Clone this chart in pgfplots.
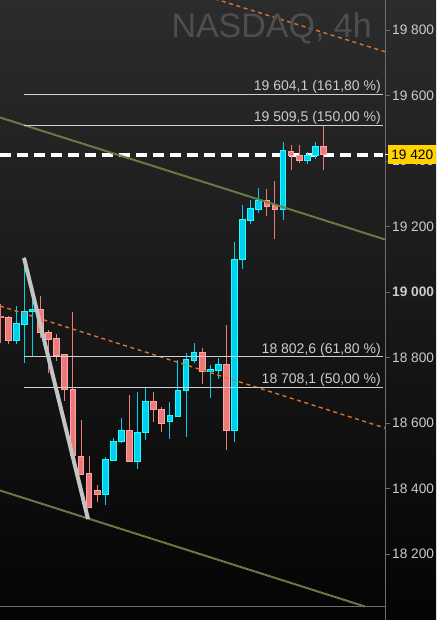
\documentclass[border=0pt]{standalone}
\usepackage{pgfplots}
\pgfplotsset{compat=1.18}
\usepackage{pgfplotstable}
\usepackage{fontspec}
\setmainfont{Liberation Sans}

\definecolor{redfill}{HTML}{EC7A7A}
\definecolor{redline}{HTML}{FFA3A3}
\definecolor{cyanfill}{HTML}{00D0F0}
\definecolor{cyanline}{HTML}{20FFFF}
\definecolor{bgtop}{HTML}{2C2C2C}
\definecolor{bgbot}{HTML}{040404}
\definecolor{labelgray}{HTML}{C8CCD2}
\definecolor{fibgray}{HTML}{D0D0D0}
\definecolor{chgreen}{HTML}{3E9A3E}
\definecolor{chred}{HTML}{B05A55}
\definecolor{dashorange}{HTML}{D8742F}
\definecolor{axisgray}{HTML}{6E6E6E}
\definecolor{pricegold}{HTML}{FFD200}
\definecolor{titlegray}{HTML}{4E4E4E}

% bearish candles: i open high low close
\pgfplotstableread{
i  O     H     L     C
0  18927 18964 18845 18921
1  18923 18928 18840 18852
5  18948 18989 18859 18877
6  18877 18884 18754 18855
7  18857 18872 18791 18806
8  18810 18811 18668 18703
9  18703 18938 18497 18500
10 18499 18610 18442 18444
11 18446 18499 18342 18343
12 18393 18411 18358 18383
16 18576 18686 18480 18482
19 18667 18695 18604 18641
20 18643 18649 18574 18600
25 18816 18829 18720 18758
28 18778 18900 18518 18577
33 19280 19315 19231 19261
34 19264 19340 19161 19251
36 19430 19449 19373 19417
37 19417 19449 19393 19401
40 19446 19510 19373 19420
}\bear

% bullish candles
\pgfplotstableread{
i  O     H     L     C
2  18852 18958 18842 18903
3  18902 19107 18785 18942
4  18940 18987 18801 18948
13 18381 18497 18351 18489
14 18487 18555 18485 18545
15 18544 18616 18539 18576
17 18482 18695 18460 18572
18 18571 18709 18547 18667
21 18604 18664 18553 18622
22 18620 18793 18619 18701
23 18699 18813 18559 18793
24 18791 18844 18785 18817
26 18757 18778 18677 18763
27 18761 18800 18735 18778
29 18577 19153 18541 19100
30 19100 19266 19070 19223
31 19220 19280 19208 19254
32 19251 19317 19243 19280
35 19251 19459 19220 19431
38 19401 19429 19390 19416
39 19416 19457 19406 19446
}\bull

\pgfplotsset{
  candle part/.style n args={2}{only marks, mark=none, mark size=0pt,
    mark options={draw=none, fill=none},
    error bars/.cd, y dir=both, y explicit, error mark=none,
    error bar style={draw=#1, line width=#2, line cap=butt}},
}

\begin{document}
\begin{tikzpicture}
\useasboundingbox (0,0) rectangle (436pt,620pt);
\shade[top color=bgtop, bottom color=bgbot] (0,0) rectangle (436pt,620pt);

\begin{axis}[
  at={(0pt,0pt)}, anchor=south west,
  scale only axis, width=385pt, height=620pt,
  xmin=-0.025, xmax=47.62,
  ymin=17998.7, ymax=19892,
  axis x line=none,
  axis y line*=right,
  y axis line style={draw=axisgray, line width=0.8pt},
  ytick={18200,18400,...,19800},
  yticklabels={18 200,18 400,18 600,18 800,\textbf{19 000},19 200,19 400,19 600,19 800},
  tick align=outside,
  major tick length=5pt,
  ytick style={draw=axisgray, line width=0.8pt},
  yticklabel style={font=\fontsize{13.7}{15}\selectfont, text=labelgray, anchor=west, inner sep=0pt, xshift=2pt},
]
% last price
\addplot[white, line width=4pt, dash pattern=on 11pt off 6pt] coordinates {(-0.025,19420) (47.38,19420)};

% wicks
\addplot[candle part={redfill}{1pt}] table[x=i, y expr={(\thisrow{H}+\thisrow{L})/2}, y error expr={(\thisrow{H}-\thisrow{L})/2}] {\bear};
\addplot[candle part={cyanfill}{1pt}] table[x=i, y expr={(\thisrow{H}+\thisrow{L})/2}, y error expr={(\thisrow{H}-\thisrow{L})/2}] {\bull};
% bodies: outline then fill
\addplot[candle part={redline}{6.7pt}] table[x=i, y expr={(\thisrow{O}+\thisrow{C})/2}, y error expr={abs(\thisrow{O}-\thisrow{C})/2+1.5}] {\bear};
\addplot[candle part={redfill}{4.7pt}] table[x=i, y expr={(\thisrow{O}+\thisrow{C})/2}, y error expr={max(abs(\thisrow{O}-\thisrow{C})/2-1.5,0)}] {\bear};
\addplot[candle part={cyanline}{6.7pt}] table[x=i, y expr={(\thisrow{O}+\thisrow{C})/2}, y error expr={abs(\thisrow{O}-\thisrow{C})/2+1.5}] {\bull};
\addplot[candle part={cyanfill}{4.7pt}] table[x=i, y expr={(\thisrow{O}+\thisrow{C})/2}, y error expr={max(abs(\thisrow{O}-\thisrow{C})/2-1.5,0)}] {\bull};

% channel
\addplot[chred, line width=1pt] coordinates {(-0.025,19531.7) (47.62,19159.2)};
\addplot[chgreen, line width=1pt] coordinates {(-0.025,19534.7) (47.62,19162.2)};
\addplot[chred, line width=1pt] coordinates {(-0.025,18392.7) (45.15,18038.4)};
\addplot[chgreen, line width=1pt] coordinates {(-0.025,18395.7) (45.15,18041.4)};
\addplot[dashorange, line width=1.4pt, dash pattern=on 4pt off 3.6pt] coordinates {(-0.025,18957.6) (47.62,18585.1)};
\addplot[dashorange, line width=1.4pt, dash pattern=on 4pt off 3.6pt] coordinates {(24.73,19909.4) (47.62,19734.1)};

% fibonacci levels
\addplot[fibgray, line width=0.9pt] coordinates {(2.95,19604.1) (47.38,19604.1)};
\addplot[fibgray, line width=0.9pt] coordinates {(2.95,19509.5) (47.38,19509.5)};
\addplot[fibgray, line width=0.9pt] coordinates {(2.95,18802.6) (47.38,18802.6)};
\addplot[fibgray, line width=0.9pt] coordinates {(2.95,18708.1) (47.38,18708.1)};

% swing
\addplot[color={rgb,255:red,196;green,196;blue,196}, line width=4pt] coordinates {(2.95,19104.1) (10.87,18307.0)};

% bottom border of the price pane
\addplot[axisgray, line width=0.8pt] coordinates {(-0.025,18041.4) (47.62,18041.4)};
\end{axis}

\begin{scope}[every node/.style={inner sep=0pt, text=labelgray, font=\fontsize{14}{16}\selectfont}]
\node[anchor=base east] at (381pt,529.7pt) {19 604,1 (161,80 \%)};
\node[anchor=base east] at (381pt,498.7pt) {19 509,5 (150,00 \%)};
\node[anchor=base east] at (381pt,266.7pt) {18 802,6 (61,80 \%)};
\node[anchor=base east] at (381pt,236.3pt) {18 708,1 (50,00 \%)};
\end{scope}

\node[anchor=base east, inner sep=0pt, text=titlegray, font=\fontsize{34}{36}\selectfont] at (372pt,582.7pt) {NASDAQ, 4h};

\draw[white, line width=1pt] (385pt,465.4pt) -- (389pt,465.4pt);
\node[fill=pricegold, text=black, anchor=west, inner sep=0pt, minimum width=48pt, minimum height=19pt,
  font=\fontsize{13.7}{15}\selectfont] at (388pt,465.4pt) {19 420};
\end{tikzpicture}
\end{document}
